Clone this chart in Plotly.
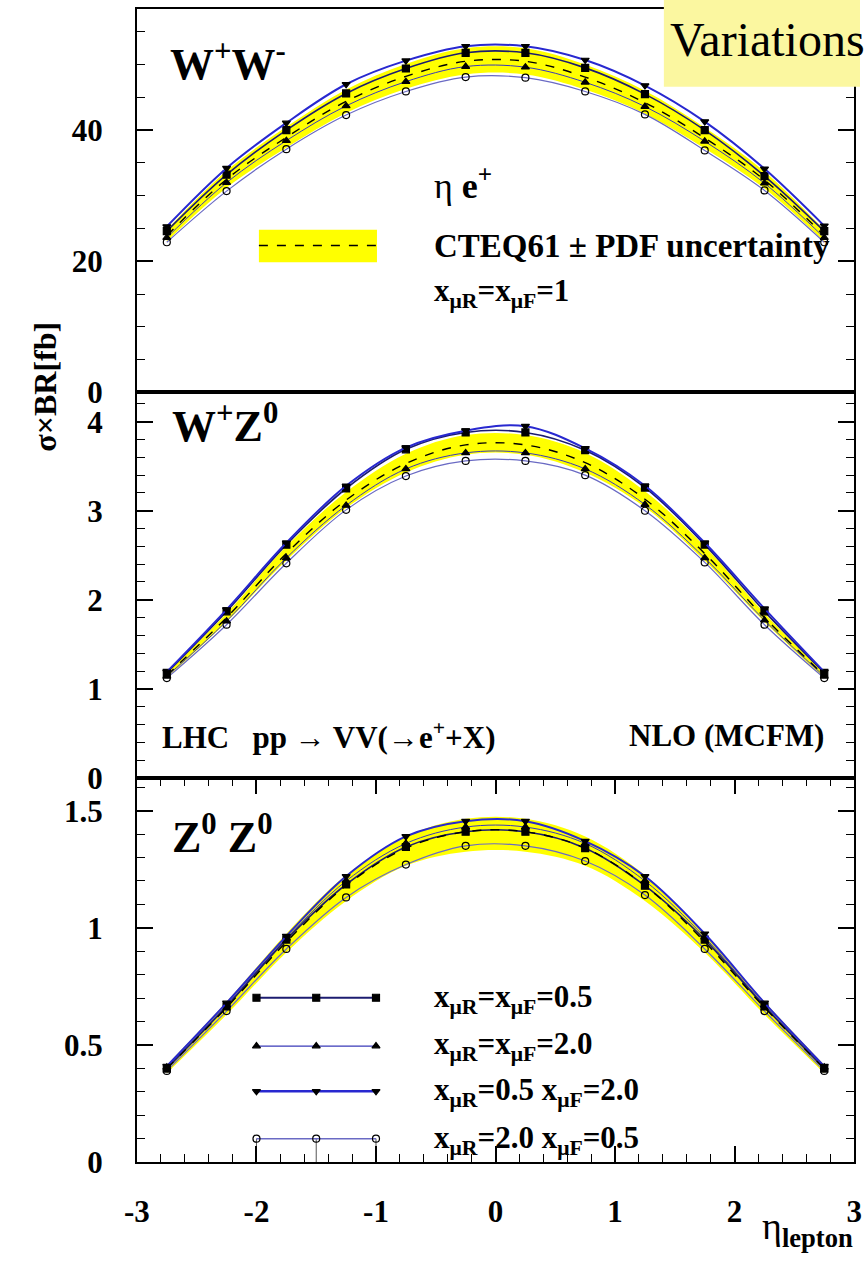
import plotly.graph_objects as go

W, H = 868, 1271
FONT = "Liberation Serif, Times New Roman, Times, serif"

# ---------------- data ----------------
eta = [-2.75, -2.25, -1.75, -1.25, -0.75, -0.25, 0.25, 0.75, 1.25, 1.75, 2.25, 2.75]

# W+W-  [fb]
ww_central = [23.9, 32.5, 38.9, 44.4, 48.2, 50.5, 50.5, 48.1, 44.2, 38.8, 32.4, 23.9]
ww_lo = [23.0, 31.2, 37.3, 42.6, 46.3, 48.5, 48.5, 46.2, 42.5, 37.2, 31.1, 23.0]
ww_hi = [24.8, 33.8, 40.5, 46.2, 50.1, 52.5, 52.5, 50.0, 46.0, 40.4, 33.7, 24.8]
ww_sq = [24.6, 33.2, 40.0, 45.6, 49.4, 51.8, 51.8, 49.5, 45.5, 40.0, 33.0, 24.6]
ww_tu = [23.6, 32.0, 38.4, 43.7, 47.4, 49.7, 49.6, 47.3, 43.6, 38.3, 31.9, 23.6]
ww_td = [25.3, 34.2, 41.1, 47.0, 50.6, 52.8, 52.8, 50.7, 46.8, 41.3, 34.1, 25.4]
ww_oc = [22.9, 30.7, 37.1, 42.3, 45.9, 48.1, 48.0, 45.9, 42.4, 36.9, 30.8, 22.9]

# W+Z0  [fb]
wz_central = [1.15, 1.80, 2.52, 3.12, 3.53, 3.74, 3.74, 3.54, 3.13, 2.52, 1.80, 1.15]
wz_lo = [1.12, 1.75, 2.44, 3.03, 3.43, 3.63, 3.63, 3.43, 3.04, 2.44, 1.75, 1.12]
wz_hi = [1.18, 1.85, 2.60, 3.21, 3.64, 3.85, 3.85, 3.65, 3.22, 2.60, 1.85, 1.18]
wz_sq = [1.18, 1.87, 2.62, 3.25, 3.69, 3.88, 3.88, 3.68, 3.26, 2.62, 1.87, 1.18]
wz_tu = [1.14, 1.76, 2.47, 3.06, 3.47, 3.65, 3.65, 3.47, 3.07, 2.47, 1.77, 1.14]
wz_td = [1.19, 1.89, 2.64, 3.28, 3.71, 3.90, 3.95, 3.70, 3.28, 2.64, 1.90, 1.19]
wz_oc = [1.12, 1.72, 2.41, 3.01, 3.39, 3.56, 3.56, 3.40, 3.00, 2.42, 1.72, 1.12]

# Z0Z0  [fb]
zz_central = [0.40, 0.66, 0.94, 1.18, 1.34, 1.41, 1.41, 1.34, 1.18, 0.94, 0.66, 0.40]
zz_lo = [0.38, 0.63, 0.895, 1.115, 1.265, 1.325, 1.325, 1.265, 1.115, 0.895, 0.63, 0.38]
zz_hi = [0.415, 0.685, 0.975, 1.225, 1.39, 1.465, 1.465, 1.39, 1.225, 0.975, 0.685, 0.415]
zz_sq = [0.40, 0.665, 0.95, 1.185, 1.345, 1.41, 1.41, 1.34, 1.18, 0.95, 0.665, 0.40]
zz_tu = [0.405, 0.67, 0.955, 1.20, 1.36, 1.43, 1.43, 1.36, 1.20, 0.96, 0.67, 0.405]
zz_td = [0.41, 0.68, 0.965, 1.22, 1.39, 1.455, 1.455, 1.37, 1.22, 0.975, 0.68, 0.41]
zz_oc = [0.39, 0.645, 0.91, 1.13, 1.27, 1.35, 1.35, 1.285, 1.14, 0.91, 0.645, 0.39]

x_ticks = [-3, -2, -1, 0, 1, 2, 3]
ww_ticks = [0, 20, 40]
wz_ticks = [0, 1, 2, 3, 4]
zz_ticks = [0, 0.5, 1, 1.5]
zz_ticktext = ["0", "0.5", "1", "1.5"]

legend_labels = [
    "x<sub>μ<b>R</b></sub>=x<sub>μ<b>F</b></sub>=0.5",
    "x<sub>μ<b>R</b></sub>=x<sub>μ<b>F</b></sub>=2.0",
    "x<sub>μ<b>R</b></sub>=0.5 x<sub>μ<b>F</b></sub>=2.0",
    "x<sub>μ<b>R</b></sub>=2.0 x<sub>μ<b>F</b></sub>=0.5",
]

# ---------------- styles ----------------
BAND = "#ffff00"
STY = {
    "sq": dict(color="#1c1c70", width=1.6, symbol="square", msize=7),
    "tu": dict(color="#3a3ab8", width=1.0, symbol="triangle-up", msize=7),
    "td": dict(color="#2828d0", width=2.0, symbol="triangle-down", msize=7),
    "oc": dict(color="#6a6ac4", width=1.2, symbol="circle-open", msize=7),
}


def px(x):
    return x / W


def py(y):
    return 1 - y / H


fig = go.Figure()

panels = [
    ("x3", "y3", ww_central, ww_lo, ww_hi, ww_sq, ww_tu, ww_td, ww_oc),
    ("x2", "y2", wz_central, wz_lo, wz_hi, wz_sq, wz_tu, wz_td, wz_oc),
    ("x", "y", zz_central, zz_lo, zz_hi, zz_sq, zz_tu, zz_td, zz_oc),
]

for xa, ya, cen, lo, hi, sq, tu, td, oc in panels:
    fig.add_trace(go.Scatter(x=eta, y=lo, xaxis=xa, yaxis=ya, mode="lines",
                             line=dict(width=0, shape="spline", color=BAND),
                             hoverinfo="skip"))
    fig.add_trace(go.Scatter(x=eta, y=hi, xaxis=xa, yaxis=ya, mode="lines",
                             line=dict(width=0, shape="spline", color=BAND),
                             fill="tonexty", fillcolor=BAND, hoverinfo="skip"))
    for key, vals in (("oc", oc), ("tu", tu), ("sq", sq), ("td", td)):
        s = STY[key]
        fig.add_trace(go.Scatter(
            x=eta, y=vals, xaxis=xa, yaxis=ya, mode="lines+markers",
            line=dict(color=s["color"], width=s["width"], shape="spline"),
            marker=dict(symbol=s["symbol"], size=s["msize"], color="black",
                        line=dict(color="black", width=1.2))))
    fig.add_trace(go.Scatter(x=eta, y=cen, xaxis=xa, yaxis=ya, mode="lines",
                             line=dict(color="black", width=1.4, dash="dash",
                                       shape="spline")))

# legend samples in the Z0Z0 panel (positions are layout, not data)
leg_y = [0.702, 0.496, 0.303, 0.101]
leg_x = [-2.0, -1.5, -1.0]
for i, key in enumerate(("sq", "tu", "td", "oc")):
    s = STY[key]
    extra = {}
    if key == "oc":
        extra = dict(error_y=dict(type="data", symmetric=False, array=[0, 0, 0],
                                  arrayminus=[0.1, 0.1, 0.1], width=0,
                                  color="#555555", thickness=1))
    fig.add_trace(go.Scatter(
        x=leg_x, y=[leg_y[i]] * 3, xaxis="x", yaxis="y", mode="lines+markers",
        line=dict(color=s["color"], width=s["width"] + 0.3),
        marker=dict(symbol=s["symbol"], size=s["msize"], color="black",
                    line=dict(color="black", width=1.2)), **extra))

# ---------------- axes ----------------
x0d, x1d = px(127), px(862)
d3 = [py(1179), py(789)]
d2 = [py(789), py(398)]
d1 = [py(398), py(9)]

tickfont = dict(family=FONT, size=31, color="black", weight=700)

common_y = dict(showline=True, linecolor="black", linewidth=2, mirror="ticks",
                ticks="inside", ticklen=16, tickwidth=1.5, tickcolor="black",
                showgrid=False, zeroline=False, tickfont=tickfont,
                ticklabelstandoff=26)

fig.update_layout(
    width=W, height=H, margin=dict(l=0, r=0, t=0, b=0),
    paper_bgcolor="white", plot_bgcolor="white", showlegend=False,
    font=dict(family=FONT),
    xaxis=dict(domain=[x0d, x1d], anchor="y", range=[-3.0, 3.0], tickvals=x_ticks,
               ticktext=[str(v) for v in x_ticks], ticklabeloverflow="allow",
               showline=True, linecolor="black", linewidth=2, mirror="ticks",
               ticks="inside", ticklen=16, tickwidth=1.5, tickcolor="black",
               minor=dict(ticks="inside", ticklen=8, dtick=0.2, tick0=-3,
                          tickcolor="black", tickwidth=1.2, showgrid=False),
               showgrid=False, zeroline=False, tickfont=tickfont,
               ticklabelstandoff=20),
    xaxis2=dict(domain=[x0d, x1d], anchor="y2", range=[-3, 3], showticklabels=False,
                showline=True, linecolor="black", linewidth=2, mirror=True,
                ticks="", showgrid=False, zeroline=False),
    xaxis3=dict(domain=[x0d, x1d], anchor="y3", range=[-3, 3], showticklabels=False,
                showline=True, linecolor="black", linewidth=2, mirror=True,
                ticks="", showgrid=False, zeroline=False),
    yaxis=dict(domain=d3, anchor="x", range=[0, 1.64], tickvals=zz_ticks,
               ticktext=zz_ticktext,
               minor=dict(ticks="inside", ticklen=8, dtick=0.1, tick0=0,
                          tickcolor="black", tickwidth=1.2, showgrid=False),
               **common_y),
    yaxis2=dict(domain=d2, anchor="x2", range=[0, 4.33], tickvals=wz_ticks,
                ticktext=[str(v) for v in wz_ticks],
                minor=dict(ticks="inside", ticklen=8, dtick=0.2, tick0=0,
                           tickcolor="black", tickwidth=1.2, showgrid=False),
                **common_y),
    yaxis3=dict(domain=d1, anchor="x3", range=[0, 58.5], tickvals=ww_ticks,
                ticktext=[str(v) for v in ww_ticks],
                minor=dict(ticks="inside", ticklen=8, dtick=5, tick0=0,
                           tickcolor="black", tickwidth=1.2, showgrid=False),
                **common_y),
)

# ---------------- shapes ----------------
shapes = [
    # CTEQ legend sample band
    dict(type="rect", xref="paper", yref="paper", x0=px(252), x1=px(373),
         y0=py(266), y1=py(233), fillcolor=BAND, line=dict(width=0), layer="above"),
    dict(type="line", xref="paper", yref="paper", x0=px(252), x1=px(373),
         y0=py(249), y1=py(249), line=dict(color="black", width=1.4, dash="dash"),
         layer="above"),
    # "Variations" box
    dict(type="rect", xref="paper", yref="paper", x0=px(667), x1=1.0,
         y0=py(88), y1=1.0, fillcolor="#fbf7a0", line=dict(width=0), layer="above"),
]
fig.update_layout(shapes=shapes)


def ann(text, x, y, size, xanchor="left", yanchor="middle", bold=True, angle=0):
    f = dict(family=FONT, size=size, color="black")
    if bold:
        f["weight"] = 700
    fig.add_annotation(text=text, x=px(x), y=py(y), xref="paper", yref="paper",
                       xanchor=xanchor, yanchor=yanchor, showarrow=False,
                       textangle=angle, borderpad=0, font=f)


ann("W<sup>+</sup>W<sup>-</sup>", 160, 62, 44)
ann("η <b>e<sup>+</sup></b>", 430, 186, 36, bold=False)
ann("CTEQ61 ± PDF uncertainty", 430, 250, 33)
ann("x<sub>μ<b>R</b></sub>=x<sub>μ<b>F</b></sub>=1", 430, 297, 31)
ann("W<sup>+</sup>Z<sup>0</sup>", 162, 430, 44)
ann("LHC   pp → VV(→e<sup>+</sup>+X)", 152, 746, 31)
ann("NLO (MCFM)", 832, 746, 31, xanchor="right")
ann("Z<sup>0</sup> Z<sup>0</sup>", 162, 846, 44)
for i, lab in enumerate(legend_labels):
    ann(lab, 430, [1013, 1061, 1108, 1156][i], 31)
ann("σ×BR[fb]", 33, 392, 32, xanchor="center", angle=-90)
ann("η<sub><b>lepton</b></sub>", 862, 1247, 38, xanchor="right", bold=False)
ann("Variations", 672, 40, 48, bold=False)

fig.write_html("out.html")
